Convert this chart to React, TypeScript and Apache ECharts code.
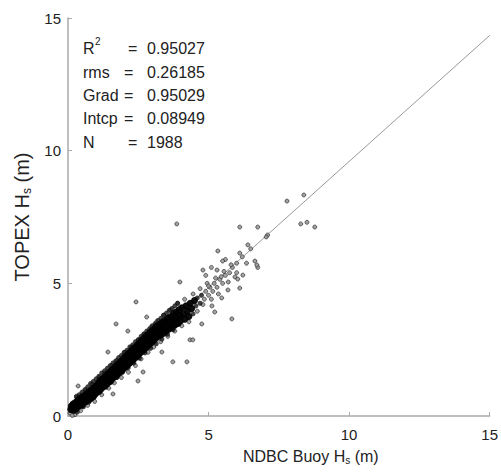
import React, { useEffect, useRef } from "react";
import * as echarts from "echarts";

const xTicks = [0, 5, 10, 15];
const yTicks = [0, 5, 10, 15];

const statLabels = ["R", "rms", "Grad", "Intcp", "N"];
const statValues = ["0.95027", "0.26185", "0.95029", "0.08949", "1988"];
const gradient = 0.95029;
const intercept = 0.08949;

// dense core of the cloud
const bandPoints: number[][] = [
  [0.10,0.25],[0.12,0.38],[0.15,0.30],[0.18,0.45],[0.20,0.22],[0.22,0.35],[0.25,0.50],[0.28,0.40],[0.30,0.28],[0.32,0.55],
  [0.35,0.45],[0.38,0.62],[0.40,0.38],[0.42,0.50],[0.45,0.68],[0.48,0.55],[0.50,0.42],[0.52,0.72],[0.55,0.60],[0.58,0.50],
  [0.60,0.78],[0.62,0.65],[0.65,0.55],[0.68,0.85],[0.70,0.72],[0.72,0.60],[0.75,0.90],[0.78,0.78],[0.80,0.65],[0.82,0.98],
  [0.85,0.85],[0.88,0.72],[0.90,1.05],[0.92,0.92],[0.95,0.80],[0.98,1.12],[1.00,1.00],[1.02,0.88],[1.05,1.20],[1.08,1.08],
  [1.10,0.95],[1.12,1.30],[1.15,1.15],[1.18,1.02],[1.20,1.38],[1.22,1.22],[1.25,1.10],[1.28,1.45],[1.30,1.30],[1.32,1.15],
  [1.35,1.52],[1.38,1.38],[1.40,1.22],[1.42,1.60],[1.45,1.45],[1.48,1.30],[1.50,1.68],[1.52,1.52],[1.55,1.38],[1.58,1.75],
  [1.60,1.60],[1.62,1.45],[1.65,1.82],[1.68,1.68],[1.70,1.50],[1.72,1.90],[1.75,1.75],[1.78,1.58],[1.80,1.98],[1.82,1.82],
  [1.85,1.65],[1.88,2.05],[1.90,1.90],[1.92,1.72],[1.95,2.12],[1.98,1.98],[2.00,1.80],[2.02,2.22],[2.05,2.05],[2.08,1.88],
  [2.10,2.30],[2.12,2.12],[2.15,1.95],[2.18,2.38],[2.20,2.20],[2.22,2.02],[2.25,2.45],[2.28,2.28],[2.30,2.10],[2.32,2.52],
  [2.35,2.35],[2.38,2.18],[2.40,2.60],[2.42,2.42],[2.45,2.25],[2.48,2.68],[2.50,2.50],[2.52,2.32],[2.55,2.75],[2.58,2.58],
  [2.60,2.40],[2.62,2.85],[2.65,2.65],[2.68,2.48],[2.70,2.92],[2.72,2.72],[2.75,2.55],[2.78,3.00],[2.80,2.80],[2.82,2.62],
  [2.85,3.08],[2.88,2.88],[2.90,2.70],[2.92,3.15],[2.95,2.95],[2.98,2.78],[3.00,3.22],[3.02,3.02],[3.05,2.85],[3.08,3.30],
  [3.10,3.10],[3.12,2.92],[3.15,3.38],[3.18,3.18],[3.20,3.00],[3.25,3.45],[3.28,3.25],[3.30,3.05],[3.35,3.52],[3.38,3.32],
  [3.40,3.12],[3.45,3.60],[3.48,3.40],[3.50,3.20],[3.55,3.68],[3.58,3.48],[3.60,3.28],[3.65,3.75],[3.68,3.55],[3.70,3.35],
  [3.75,3.85],[3.78,3.62],[3.80,3.42],[3.85,3.92],[3.88,3.70],[3.90,3.50],[3.95,4.00],[3.98,3.78],[4.00,3.58],[4.05,4.08],
  [4.10,3.85],[4.15,3.65],[4.20,4.15],[4.25,3.95],[4.30,3.75],[4.35,4.25],[4.40,4.05],[4.50,4.35]
];

// edges of the black band, where it is still dense
const bandEdgePoints: number[][] = [
  [0.30,0.72],[0.33,0.15],[0.50,0.90],[0.55,0.35],[0.70,1.10],[0.74,0.52],[0.90,1.30],[0.93,0.70],[1.10,1.50],[1.14,0.90],
  [1.30,1.70],[1.34,1.08],[1.50,1.90],[1.54,1.27],[1.70,2.08],[1.74,1.45],[1.90,2.28],[1.94,1.65],[2.10,2.48],[2.14,1.82],
  [2.30,2.68],[2.34,2.00],[2.50,2.88],[2.54,2.18],[2.70,3.08],[2.74,2.38],[2.90,3.28],[2.94,2.55],[3.10,3.48],[3.14,2.72],
  [3.30,3.68],[3.34,2.90],[3.50,3.88],[3.54,3.08],[3.70,4.05],[3.74,3.25],[3.90,4.25],[3.94,3.45],
  [0.40,0.80],[0.62,0.98],[0.80,1.22],[1.00,1.40],[1.20,1.62],[1.40,1.80],[1.60,2.00],[1.80,2.20],[2.00,2.40],[2.20,2.60],
  [2.40,2.80],[2.60,3.00],[2.80,3.20],[3.00,3.40],[3.20,3.60],[3.40,3.80],[3.60,3.98],[3.80,4.15],
  [4.45,3.85],[4.55,4.15],[4.60,4.45],[4.70,4.25],[4.75,4.55]
];

// looser points around the band and outliers
const sparsePoints: number[][] = [
  [0.30,0.75],[0.45,0.20],[0.60,1.00],[0.70,0.40],[0.85,1.20],[0.95,0.55],[1.10,1.45],[1.20,0.80],[1.30,1.60],[1.45,1.05],
  [1.55,1.90],[1.65,1.25],[1.75,2.10],[1.90,1.45],[2.00,2.40],[2.15,1.65],[2.25,2.60],[2.40,1.90],[2.50,2.85],[2.60,2.15],
  [2.70,3.10],[2.85,2.40],[2.95,3.35],[3.05,2.60],[3.15,3.55],[3.30,2.80],[3.40,3.80],[3.55,3.00],[3.65,4.00],[3.80,3.20],
  [3.90,4.25],[4.05,3.40],[4.15,4.40],[4.30,3.55],[4.45,4.60],[4.60,3.95],[4.70,4.80],[4.80,4.20],[4.95,5.00],[5.10,4.40],
  [5.25,5.20],[5.35,4.60],[5.55,5.45],[5.70,5.05],[5.85,5.60],[6.00,5.40],
  [4.85,4.40],[4.90,4.70],[5.00,4.55],[5.05,4.85],[5.15,4.70],[5.20,5.00],[5.30,4.85],[5.40,5.15],[5.50,5.00],[5.60,5.30],[5.75,5.40],
  [4.90,5.30],[5.10,5.60],[5.30,5.50],[5.60,5.90],[5.80,5.70],[6.20,6.00],[6.50,6.30],[4.80,5.50],[5.00,4.90],[5.45,5.25],
  [3.87,7.24],[7.79,8.10],[8.39,8.33],[8.28,7.24],[8.50,7.30],[8.78,7.12],[6.11,7.12],[6.75,7.12],[7.10,6.82],[7.05,6.75],
  [5.33,6.22],[6.40,6.45],[6.11,6.14],[5.50,5.84],[6.65,5.84],[6.75,5.60],[6.35,5.76],[6.00,5.76],[3.98,5.05],[5.94,5.24],
  [6.04,5.16],[6.22,5.31],[6.11,4.82],[5.83,3.66],[4.76,3.47],[2.80,3.73],[5.12,4.15],[5.22,3.92],[5.69,4.75],[5.47,4.45],
  [1.71,3.47],[2.13,3.20],[2.42,4.30],[1.42,2.41],[0.36,1.13],[1.60,0.83],[2.49,1.32],[3.34,2.41],[3.73,2.04],[2.67,1.66],
  [4.23,2.04],[4.34,2.87],[4.44,2.87],[6.72,5.69],[0.07,0.11],[0.25,0.05],[0.15,0.02]
];

const FONT = "Liberation Sans, Arial, sans-serif";

export default function App() {
  const ref = useRef<HTMLDivElement>(null);
  useEffect(() => {
    if (!ref.current) return;
    document.body.style.margin = "0";
    const chart = echarts.init(ref.current, undefined, { renderer: "svg" });
    const lineStart = [xTicks[0], intercept + gradient * xTicks[0]];
    const lineEnd = [xTicks[xTicks.length - 1], intercept + gradient * xTicks[xTicks.length - 1]];

    const rowY = [49, 73, 96, 119, 143];
    const graphics: any[] = [];
    statLabels.forEach((lab, i) => {
      graphics.push({
        type: "text", left: 83, top: rowY[i] - 9,
        style: { text: lab, font: `16px ${FONT}`, fill: "#222" },
      });
      graphics.push({
        type: "text", left: i === 0 || i === 4 ? 128 : 124, top: rowY[i] - 9,
        style: { text: "=", font: `16px ${FONT}`, fill: "#222" },
      });
      graphics.push({
        type: "text", left: 147, top: rowY[i] - 9,
        style: { text: statValues[i], font: `16px ${FONT}`, fill: "#222" },
      });
    });
    graphics.push({
      type: "text", left: 95, top: 36,
      style: { text: "2", font: `10px ${FONT}`, fill: "#222" },
    });

    chart.setOption({
      animation: false,
      backgroundColor: "#fff",
      textStyle: { fontFamily: FONT },
      grid: { left: 68, right: 11, top: 18, bottom: 60, containLabel: false },
      xAxis: {
        type: "value", min: 0, max: 15, interval: 5,
        name: "NDBC Buoy H{sub|s} (m)",
        nameLocation: "middle", nameGap: 31,
        nameTextStyle: {
          fontSize: 16, color: "#222", fontFamily: FONT, padding: [0, 0, 0, 64],
          rich: { sub: { fontSize: 10, color: "#222", fontFamily: FONT, verticalAlign: "bottom", padding: [8, 0, 0, 0] } },
        },
        axisLine: { show: true, lineStyle: { color: "#aaa", width: 1.5 } },
        axisTick: { show: true, inside: true, length: 4, lineStyle: { color: "#aaa" } },
        axisLabel: { fontSize: 15, color: "#222", margin: 11 },
        splitLine: { show: false },
      },
      yAxis: {
        type: "value", min: 0, max: 15, interval: 5,
        name: "TOPEX H{sub|s} (m)",
        nameLocation: "middle", nameGap: 32,
        nameTextStyle: {
          fontSize: 20, color: "#222", fontFamily: FONT,
          rich: { sub: { fontSize: 12, color: "#222", fontFamily: FONT, verticalAlign: "bottom", padding: [10, 0, 0, 0] } },
        },
        axisLine: { show: true, lineStyle: { color: "#aaa", width: 1.5 } },
        axisTick: { show: true, inside: true, length: 4, lineStyle: { color: "#aaa" } },
        axisLabel: { fontSize: 15, color: "#222", margin: 7 },
        splitLine: { show: false },
      },
      series: [
        {
          type: "line", data: [lineStart, lineEnd], symbol: "none",
          lineStyle: { color: "#999", width: 1 }, z: 1,
        },
        {
          type: "scatter", data: sparsePoints, symbol: "circle", symbolSize: 4,
          itemStyle: { color: "#999", borderColor: "#222", borderWidth: 0.7, opacity: 0.9 }, z: 2,
        },
        {
          type: "scatter", data: bandEdgePoints, symbol: "circle", symbolSize: 5,
          itemStyle: { color: "#111", opacity: 0.8 }, z: 3,
        },
        {
          type: "scatter", data: bandPoints, symbol: "circle", symbolSize: 7,
          itemStyle: { color: "#000", opacity: 0.95 }, z: 4,
        },
      ],
      graphic: graphics,
    });
    return () => chart.dispose();
  }, []);
  return <div ref={ref} style={{ width: 501, height: 476 }} />;
}
